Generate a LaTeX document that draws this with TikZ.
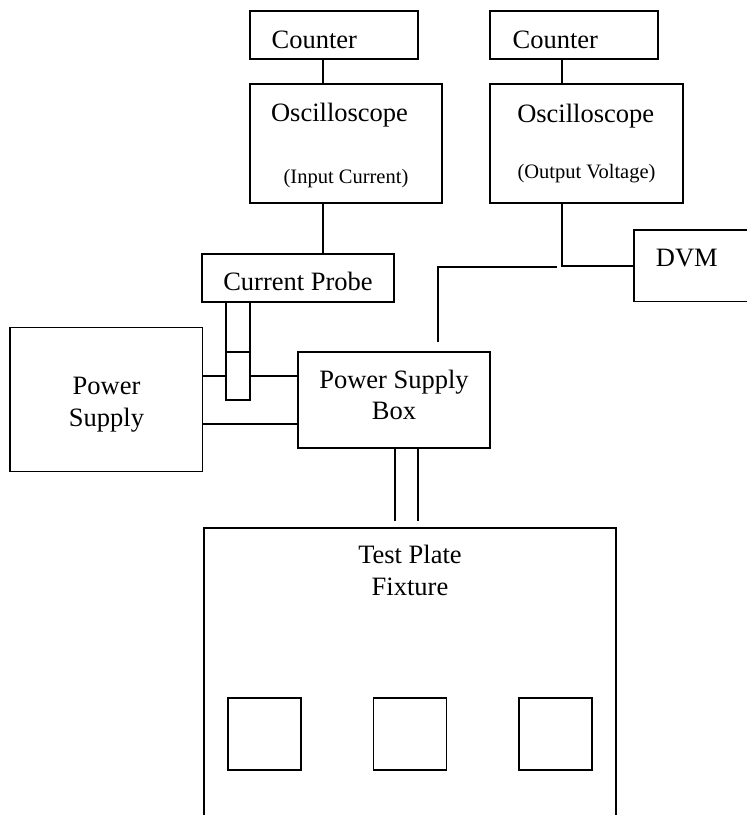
\documentclass[tikz,border=0pt]{standalone}
\usepackage{fontspec}
\setmainfont{Liberation Serif}
\begin{document}
\begin{tikzpicture}[x=1pt,y=-1pt,line width=1.8pt,
  box/.style={draw,line width=1.8pt,inner sep=0pt,rectangle},
  big/.style={font=\fontsize{26.5}{30}\selectfont,inner sep=0pt},
  small/.style={font=\fontsize{20.5}{24}\selectfont,inner sep=0pt}]
\useasboundingbox (0,0) rectangle (747,815);
% boxes
\node[box,minimum width=168pt,minimum height=48pt] (cnt1) at (334,35) {};
\node[box,minimum width=192pt,minimum height=119pt] (osc1) at (346,143.5) {};
\node[box,minimum width=168pt,minimum height=48pt] (cnt2) at (574,35) {};
\node[box,minimum width=193pt,minimum height=119pt] (osc2) at (586.5,143.5) {};
\node[box,minimum width=192pt,minimum height=48pt] (cp) at (298,278) {};
\node[box,minimum width=136pt,minimum height=71.5pt] (dvm) at (702,265.75) {};
\node[box,minimum width=192.5pt,minimum height=144pt] (ps) at (106.25,399.5) {};
\node[box,minimum width=192pt,minimum height=96pt] (psb) at (394,400) {};
\node[box,minimum width=24pt,minimum height=98pt] (probe) at (238,351) {};
\node[box,minimum width=412pt,minimum height=372pt] (fix) at (410,714) {};
\node[box,minimum width=73pt,minimum height=72pt] (sq1) at (264.5,734) {};
\node[box,minimum width=73pt,minimum height=72pt] (sq2) at (410,734) {};
\node[box,minimum width=73pt,minimum height=72pt] (sq3) at (555.5,734) {};
% texts
\node[big,anchor=base west] (t1) at (270.7,48.3) {Counter};
\node[big,anchor=base west] (t2) at (511.7,48.3) {Counter};
\node[big,anchor=base] (t3) at (339.5,121.7) {Oscilloscope};
\node[small,anchor=base] (t4) at (346,183) {(Input Current)};
\node[big,anchor=base] (t5) at (585.7,122) {Oscilloscope};
\node[small,anchor=base] (t6) at (586.5,178) {(Output Voltage)};
\node[big,anchor=base] (t7) at (298,290) {Current Probe};
\node[big,anchor=base west] (t8) at (655,266) {DVM};
\node[big,anchor=base] (t9) at (106.5,394) {Power};
\node[big,anchor=base] (t10) at (106.5,426.7) {Supply};
\node[big,anchor=base] (t11) at (394,388.3) {Power Supply};
\node[big,anchor=base] (t12) at (394,419.3) {Box};
\node[big,anchor=base] (t13) at (410,563.3) {Test Plate};
\node[big,anchor=base] (t14) at (410,595) {Fixture};
% helper coordinates
\coordinate (l1) at (322.7,0);
\coordinate (l2) at (562,0);
\coordinate (j1) at (437.7,341.7);
\coordinate (j2) at (556.7,266.7);
\coordinate (y1) at (0,376);
\coordinate (y2) at (0,424);
\coordinate (y3) at (0,352);
\coordinate (f1) at (395,521);
\coordinate (f2) at (418,521);
% connectors
\draw (cnt1.south -| l1) -- (osc1.north -| l1);
\draw (osc1.south -| l1) -- (cp.north -| l1);
\draw (cnt2.south -| l2) -- (osc2.north -| l2);
\draw (osc2.south -| l2) |- (dvm.west);
\draw (j1) |- (j2);
\draw (ps.east |- y1) -- (probe.west |- y1);
\draw (probe.east |- y1) -- (psb.west |- y1);
\draw (ps.east |- y2) -- (psb.west |- y2);
\draw (probe.west |- y3) -- (probe.east |- y3);
\draw (psb.south -| f1) -- (f1);
\draw (psb.south -| f2) -- (f2);
\end{tikzpicture}
\end{document}
